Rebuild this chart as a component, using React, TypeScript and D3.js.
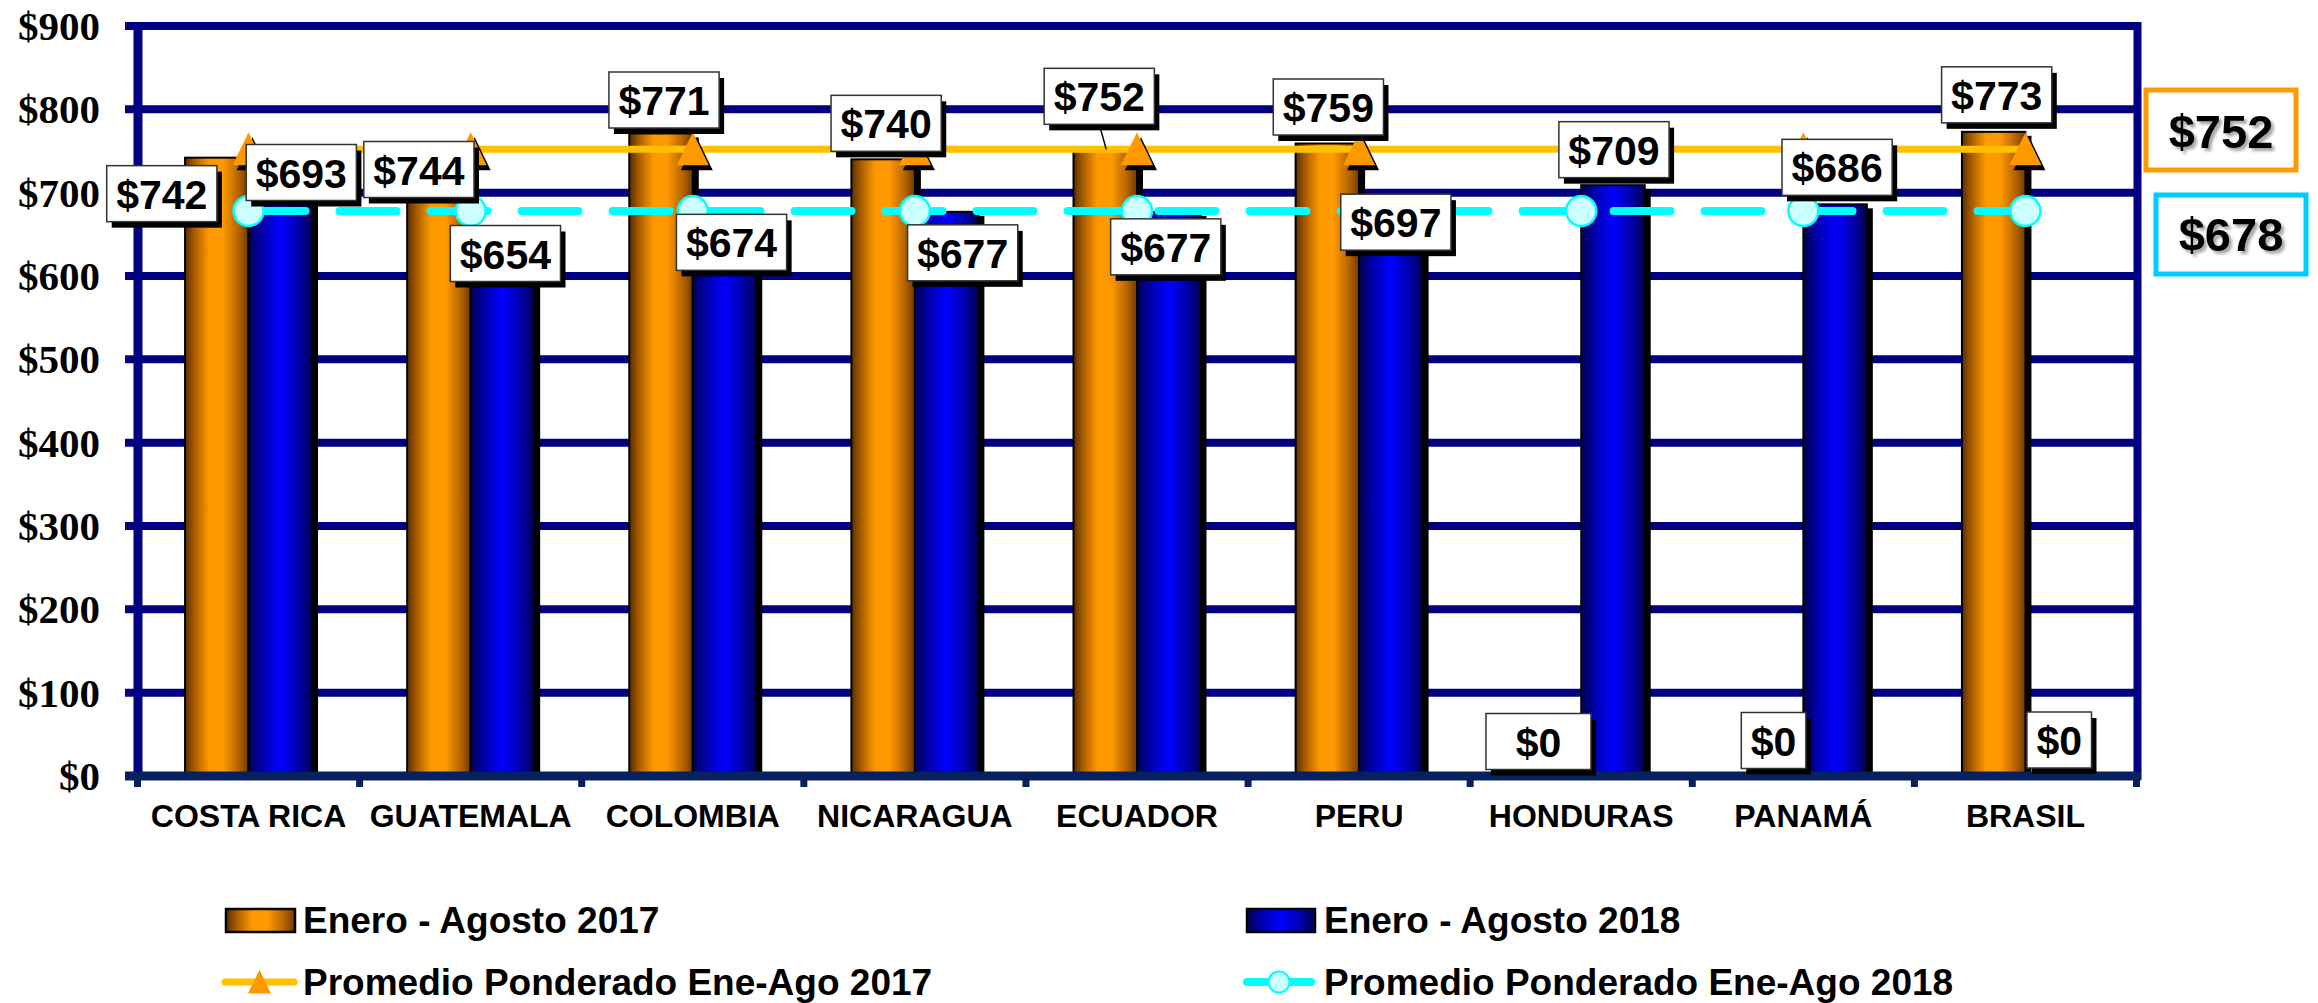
import React from 'react';
import * as d3 from 'd3';

const categories = ['COSTA RICA', 'GUATEMALA', 'COLOMBIA', 'NICARAGUA', 'ECUADOR', 'PERU', 'HONDURAS', 'PANAMÁ', 'BRASIL'];
const values2017 = [742, 744, 771, 740, 752, 759, 0, 0, 773];
const values2018 = [693, 654, 674, 677, 677, 697, 709, 686, 0];
const avg2017 = 752;
const avg2018 = 678;
const yTicks = [0, 100, 200, 300, 400, 500, 600, 700, 800, 900];
const seriesNames = ['Enero - Agosto 2017', 'Enero - Agosto 2018', 'Promedio Ponderado Ene-Ago 2017', 'Promedio Ponderado Ene-Ago 2018'];

// label nudges (box centre relative to bar top centre)
const labelNudge2017 = [[-55, 36], [-20, 13.5], [3, -33.5], [3, -36], [-6, -53], [1, -36.5], [-11, -34.5], [2, -35.5], [3, -37]];
const labelNudge2018 = [[21, -26], [3, 22.5], [7, 28], [16, 41], [-3, 35], [5, 27], [1, -35.5], [2, -37], [2, -36]];
const labelWidth2017 = [0, 0, 0, 0, 0, 0, 105, 0, 0];
const leader2017 = [false, false, false, false, true, false, false, false, false];

const W = 2318, H = 1003;
const SANS = '"Liberation Sans", Arial, sans-serif';
const SERIF = '"Liberation Serif", "Times New Roman", serif';

const fmt = (v: number) => '$' + d3.format('d')(v);

export default function App() {
  const x = d3.scaleBand<string>().domain(categories).range([137.5, 2136.5]).padding(0);
  const bw = x.bandwidth();
  const barW = 63.5;
  const xSub = d3.scaleBand<string>().domain(['2017', '2018']).range([bw / 2 - barW, bw / 2 + barW]).padding(0);
  const y = d3.scaleLinear().domain([0, 900]).range([776, 26]);
  const cx = (c: string) => (x(c) as number) + bw / 2;

  const line = d3.line<string>().x((c) => cx(c)).y(() => 0);
  const line17 = d3.line<string>().x((c) => cx(c)).y(() => y(avg2017));
  const line18 = d3.line<string>().x((c) => cx(c)).y(() => y(avg2018));
  void line;

  const tri = (s: number) => `M0,${-s * 0.53} L${s * 0.5},${s * 0.5} L${-s * 0.5},${s * 0.5} Z`;

  const bars: any[] = [];
  categories.forEach((c, i) => {
    [['2017', values2017[i], 'url(#gOrange)'], ['2018', values2018[i], 'url(#gBlue)']].forEach(([k, v, fill]: any) => {
      if (v <= 0) return;
      const bx = (x(c) as number) + (xSub(k) as number);
      const by = y(v);
      const bh = y(0) - by;
      bars.push(
        <g key={c + k}>
          <rect x={bx + 6} y={by + 4} width={xSub.bandwidth()} height={bh - 4} fill="#000" />
          <rect x={bx} y={by} width={xSub.bandwidth()} height={bh} fill={fill} stroke="#000" strokeWidth={2} />
        </g>
      );
    });
  });

  const labels: any[] = [];
  categories.forEach((c, i) => {
    const items: any[] = [
      ['2017', values2017[i], labelNudge2017[i], labelWidth2017[i], leader2017[i]],
      ['2018', values2018[i], labelNudge2018[i], 0, false],
    ];
    items.forEach(([k, v, nd, wOverride, leader]) => {
      const ax = (x(c) as number) + (xSub(k) as number) + xSub.bandwidth() / 2;
      const ay = y(v);
      const txt = fmt(v);
      const w = wOverride || txt.length * 0.556 * 41 + 19;
      const h = 56;
      const bcx = ax + nd[0];
      const bcy = ay + nd[1];
      labels.push(
        <g key={'l' + c + k}>
          {leader && <line x1={bcx} y1={bcy + h / 2} x2={ax + 1} y2={ay} stroke="#000" strokeWidth={1.5} />}
          <rect x={bcx - w / 2 + 5} y={bcy - h / 2 + 6} width={w} height={h} fill="#000" />
          <rect x={bcx - w / 2} y={bcy - h / 2} width={w} height={h} fill="#fff" stroke="#333" strokeWidth={1.5} />
          <text x={bcx} y={bcy + 15} textAnchor="middle" fontFamily={SANS} fontWeight="bold" fontSize={41} fill="#000">{txt}</text>
        </g>
      );
    });
  });

  return (
    <div style={{ position: 'absolute', left: 0, top: 0 }}>
      <svg width={W} height={H} viewBox={`0 0 ${W} ${H}`} style={{ display: 'block', background: '#fff' }}>
        <defs>
          <linearGradient id="gOrange" x1="0" x2="1" y1="0" y2="0">
            <stop offset="0" stopColor="#5a2e00" />
            <stop offset="0.15" stopColor="#a85c00" />
            <stop offset="0.38" stopColor="#ff9900" />
            <stop offset="0.6" stopColor="#ff9900" />
            <stop offset="0.85" stopColor="#b36200" />
            <stop offset="1" stopColor="#6e3a00" />
          </linearGradient>
          <linearGradient id="gBlue" x1="0" x2="1" y1="0" y2="0">
            <stop offset="0" stopColor="#00004d" />
            <stop offset="0.2" stopColor="#0000a8" />
            <stop offset="0.5" stopColor="#0000ff" />
            <stop offset="0.8" stopColor="#0000a8" />
            <stop offset="1" stopColor="#000050" />
          </linearGradient>
          <filter id="tshadow" x="-20%" y="-20%" width="140%" height="140%">
            <feDropShadow dx="3" dy="3" stdDeviation="1.5" floodColor="#000" floodOpacity="0.35" />
          </filter>
        </defs>

        {/* gridlines */}
        {yTicks.filter((t) => t > 0).map((t) => (
          <line key={'g' + t} x1={125} x2={2141} y1={y(t)} y2={y(t)} stroke="#000080" strokeWidth={8} />
        ))}
        {/* y axis & right border */}
        <line x1={138} x2={138} y1={22} y2={780} stroke="#000080" strokeWidth={9} />
        <line x1={2137.5} x2={2137.5} y1={22} y2={780} stroke="#000080" strokeWidth={8} />

        {/* y tick labels */}
        {yTicks.map((t) => (
          <text key={'yl' + t} x={100} y={y(t) + 14} textAnchor="end" fontFamily={SERIF} fontWeight="bold" fontSize={41} fill="#000">{fmt(t)}</text>
        ))}

        {bars}

        {/* x axis */}
        <line x1={125} x2={2141} y1={y(0)} y2={y(0)} stroke="#06215e" strokeWidth={9} />
        {d3.range(categories.length + 1).map((k) => (
          <rect key={'t' + k} x={137.5 + k * bw - 3.5} y={y(0)} width={7} height={11} fill="#06215e" />
        ))}
        {categories.map((c) => (
          <text key={'xl' + c} x={cx(c)} y={827} textAnchor="middle" fontFamily={SANS} fontWeight="bold" fontSize={32} fill="#000">{c}</text>
        ))}

        {/* average lines */}
        <path d={line17(categories) || ''} fill="none" stroke="#ffc000" strokeWidth={7} />
        <path d={line18(categories) || ''} fill="none" stroke="#00ffff" strokeWidth={8} strokeDasharray="57 34" strokeLinecap="round" />
        {categories.map((c) => (
          <g key={'m' + c}>
            <path d={tri(32)} transform={`translate(${cx(c) + 4},${y(avg2017) + 5})`} fill="#000" />
            <path d={tri(32)} transform={`translate(${cx(c)},${y(avg2017)})`} fill="#ff9900" />
            <circle cx={cx(c)} cy={y(avg2018)} r={15} fill="#ccffff" stroke="#00ffff" strokeWidth={2.5} />
          </g>
        ))}

        {labels}

        {/* right-hand average boxes */}
        <rect x={2146} y={90} width={150} height={80} fill="#fff" stroke="#ff9900" strokeWidth={5} />
        <text x={2221} y={148} textAnchor="middle" fontFamily={SANS} fontWeight="bold" fontSize={47} fill="#000" filter="url(#tshadow)">{fmt(avg2017)}</text>
        <rect x={2156} y={195} width={150} height={79} fill="#fff" stroke="#00ccff" strokeWidth={5} />
        <text x={2231} y={251} textAnchor="middle" fontFamily={SANS} fontWeight="bold" fontSize={47} fill="#000" filter="url(#tshadow)">{fmt(avg2018)}</text>

        {/* legend */}
        <g>
          <rect x={226} y={909} width={69} height={23} fill="url(#gOrange)" stroke="#000" strokeWidth={2.5} />
          <text x={303} y={933} fontFamily={SANS} fontWeight="bold" fontSize={37} fill="#000">{seriesNames[0]}</text>
          <rect x={1247} y={909} width={68} height={23} fill="url(#gBlue)" stroke="#000" strokeWidth={2.5} />
          <text x={1324} y={933} fontFamily={SANS} fontWeight="bold" fontSize={37} fill="#000">{seriesNames[1]}</text>
          <line x1={225} x2={294} y1={982} y2={982} stroke="#ffc000" strokeWidth={7} strokeLinecap="round" />
          <path d={tri(23)} transform="translate(259.5,982)" fill="#ff9900" />
          <text x={303} y={995} fontFamily={SANS} fontWeight="bold" fontSize={37} fill="#000">{seriesNames[2]}</text>
          <line x1={1247} x2={1311} y1={982} y2={982} stroke="#00ffff" strokeWidth={8} strokeLinecap="round" />
          <circle cx={1279} cy={982} r={10.5} fill="#ccffff" stroke="#00ffff" strokeWidth={2} />
          <text x={1324} y={995} fontFamily={SANS} fontWeight="bold" fontSize={37} fill="#000">{seriesNames[3]}</text>
        </g>
      </svg>
    </div>
  );
}
